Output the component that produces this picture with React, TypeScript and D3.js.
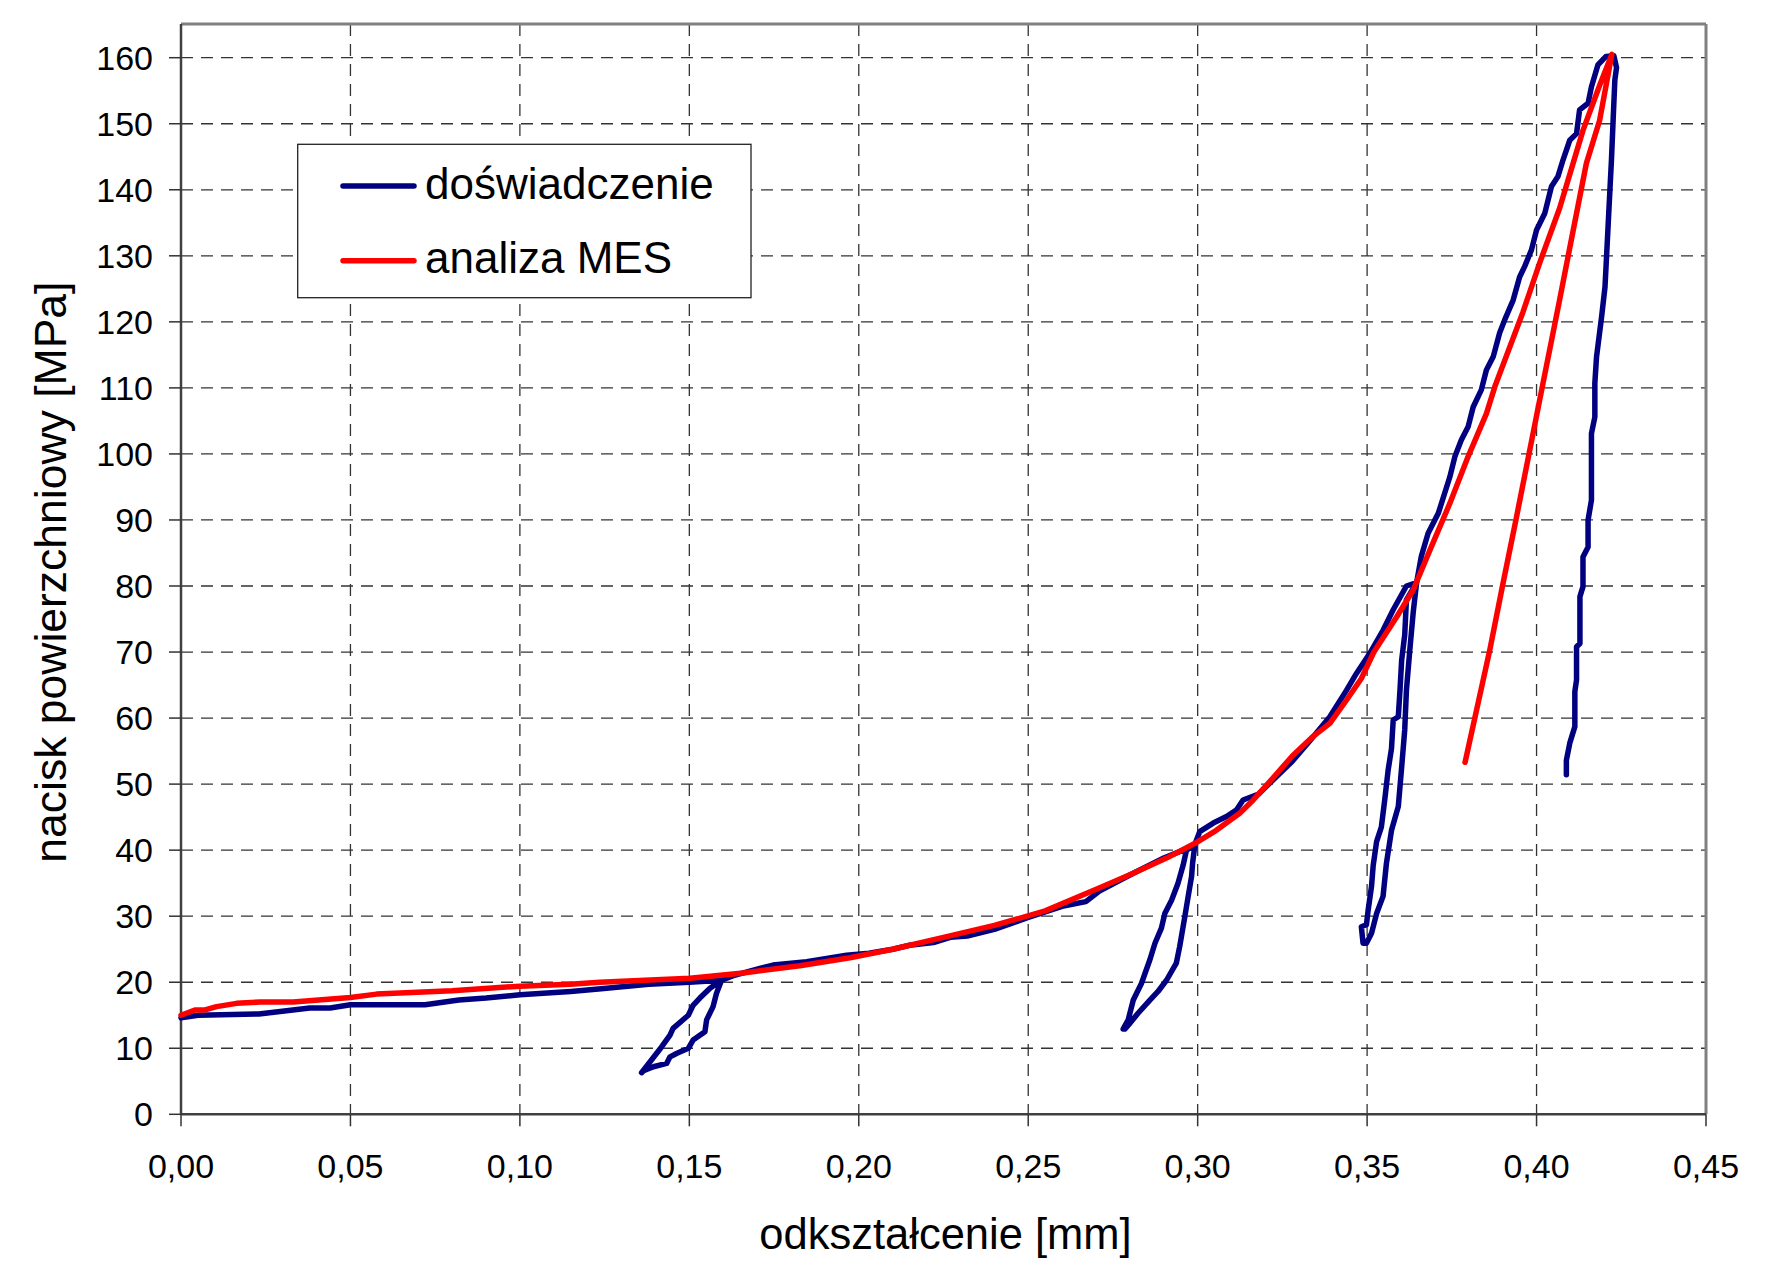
import React from 'react';
import * as d3 from 'd3';

// ---- data ----
const X_TICKS = [0, 0.05, 0.1, 0.15, 0.2, 0.25, 0.3, 0.35, 0.4, 0.45];
const Y_TICKS = [0, 10, 20, 30, 40, 50, 60, 70, 80, 90, 100, 110, 120, 130, 140, 150, 160];

const SERIES_NAMES = ['doświadczenie', 'analiza MES'];
const X_TITLE = 'odkształcenie [mm]';
const Y_TITLE = 'nacisk powierzchniowy [MPa]';

// experiment (deformation mm, pressure MPa)
const expMain1: [number, number][] = [
  [0, 14.6], [0.005, 15.0], [0.023, 15.2], [0.033, 15.8], [0.038, 16.1], [0.044, 16.1], [0.05, 16.6],
  [0.072, 16.6], [0.082, 17.3], [0.09, 17.6], [0.1, 18.1], [0.115, 18.6], [0.124, 19.0], [0.138, 19.7],
  [0.15, 20.0], [0.1595, 20.3],
];
const expLoop1: [number, number][] = [
  [0.158, 18.3], [0.157, 16.3], [0.1551, 14.3], [0.1546, 12.5], [0.1511, 11.25], [0.1497, 10.0],
  [0.1462, 9.2], [0.1443, 8.7], [0.1433, 7.7], [0.1394, 7.2], [0.1365, 6.6], [0.1359, 6.3],
  [0.1418, 10.2], [0.1443, 12.0], [0.1452, 13.0], [0.1497, 15.0], [0.1511, 16.5], [0.1531, 17.6],
  [0.1561, 19.1], [0.1595, 20.3], [0.163, 21.0],
];
const expMain2: [number, number][] = [
  [0.1708, 22.1], [0.1747, 22.6], [0.1846, 23.1], [0.1964, 24.1], [0.203, 24.4], [0.21, 25.0],
  [0.215, 25.6], [0.222, 26.0], [0.227, 26.8], [0.232, 27.0], [0.24, 28.0], [0.25, 29.8], [0.26, 31.5],
  [0.267, 32.2], [0.271, 33.8], [0.281, 36.5], [0.29, 38.8], [0.2967, 40.2], [0.2991, 40.5],
];
const expLoop2: [number, number][] = [
  [0.2985, 38.0], [0.2982, 36.0], [0.2972, 33.0], [0.2962, 29.9], [0.2947, 25.4], [0.2937, 22.9],
  [0.2908, 20.3], [0.2883, 18.6], [0.2859, 17.3], [0.2824, 15.3], [0.28, 13.8], [0.2785, 12.9],
  [0.278, 12.9], [0.2795, 14.3], [0.281, 17.3], [0.2834, 19.8], [0.2859, 23.4], [0.2874, 25.9],
  [0.2893, 28.2], [0.2903, 30.4], [0.2923, 32.4], [0.2942, 35.0], [0.2957, 37.7], [0.2967, 40.0],
  [0.2991, 40.8],
];
const expMain3: [number, number][] = [
  [0.3006, 42.8], [0.3046, 44.1], [0.3085, 45.1], [0.3115, 46.1], [0.3134, 47.6], [0.318, 48.5],
  [0.322, 50.5], [0.328, 53.5], [0.333, 56.5], [0.339, 60.2], [0.3439, 64.2], [0.3469, 66.8],
  [0.3508, 69.8], [0.3547, 73.3], [0.3577, 76.4], [0.3616, 80.0], [0.3646, 80.5],
];
const expLoop3: [number, number][] = [
  [0.3636, 76.0], [0.3626, 70.3], [0.3616, 64.2], [0.3611, 58.2], [0.3602, 52.6], [0.3592, 46.6],
  [0.3572, 43.0], [0.3557, 38.0], [0.3547, 33.0], [0.3528, 30.4], [0.3513, 27.4], [0.3498, 25.9],
  [0.3488, 25.9], [0.3483, 28.4], [0.3498, 28.7], [0.3503, 30.9], [0.3513, 34.5], [0.3518, 37.7],
  [0.3528, 41.3], [0.3542, 43.5], [0.3552, 47.6], [0.3562, 52.1], [0.3572, 55.4], [0.3577, 59.7],
  [0.3592, 60.2], [0.3597, 64.2], [0.3602, 68.8], [0.3611, 72.6], [0.3616, 77.9], [0.3646, 80.5],
];
const expMain4: [number, number][] = [
  [0.366, 84.5], [0.368, 88.0], [0.371, 91.0], [0.3744, 96.5], [0.3759, 99.6], [0.3778, 102.1],
  [0.3798, 104.1], [0.3813, 107.1], [0.3837, 109.7], [0.3852, 112.7], [0.3872, 114.7], [0.3891, 118.3],
  [0.3906, 120.3], [0.3931, 123.3], [0.395, 126.8], [0.3965, 128.4], [0.3985, 130.9], [0.4, 133.9],
  [0.4024, 136.4], [0.4044, 140.5], [0.4063, 142.0], [0.4078, 144.5], [0.4098, 147.5], [0.4118, 148.5],
  [0.4127, 152.1], [0.4152, 153.1], [0.4162, 155.6], [0.4181, 158.9], [0.4205, 160.2], [0.4228, 160.3],
];
const expUnload: [number, number][] = [
  [0.4236, 158.5], [0.4231, 156.6], [0.4226, 150.6], [0.4221, 144.5], [0.4216, 139.5], [0.4211, 134.4],
  [0.4202, 125.3], [0.4192, 120.8], [0.4177, 114.7], [0.4172, 110.7], [0.4172, 105.6], [0.4162, 103.1],
  [0.4162, 93.0], [0.4152, 90.0], [0.4152, 85.9], [0.4137, 84.4], [0.4137, 79.9], [0.4128, 78.4],
  [0.4128, 71.3], [0.4118, 70.8], [0.4118, 65.8], [0.4113, 64.0], [0.4113, 58.7], [0.4098, 56.2],
  [0.4088, 53.6], [0.4088, 51.4],
];

// FEM analysis
const femLoad: [number, number][] = [
  [0, 15.0], [0.0041, 15.8], [0.0071, 15.8], [0.0105, 16.3], [0.0164, 16.8], [0.0233, 17.0],
  [0.0331, 17.0], [0.05, 17.7], [0.0577, 18.2], [0.08, 18.7], [0.1, 19.4], [0.1148, 19.7],
  [0.1236, 20.0], [0.1502, 20.6], [0.1659, 21.4], [0.1826, 22.5], [0.1974, 23.7], [0.21, 25.0],
  [0.225, 26.8], [0.24, 28.6], [0.255, 30.8], [0.2711, 34.3], [0.281, 36.5], [0.2908, 38.8],
  [0.2991, 41.0], [0.3055, 43.0], [0.3124, 45.6], [0.3164, 47.6], [0.322, 50.8], [0.328, 54.3],
  [0.334, 57.2], [0.339, 59.2], [0.3439, 62.7], [0.3483, 66.0], [0.352, 70.0], [0.3587, 75.3],
  [0.3636, 79.4], [0.3685, 85.4], [0.3744, 92.5], [0.3798, 99.6], [0.3852, 106.1], [0.3877, 110.2],
  [0.3921, 116.2], [0.396, 121.5], [0.4009, 128.9], [0.4068, 137.2], [0.4137, 149.0], [0.4186, 155.8],
  [0.4222, 160.5],
];
const femUnload: [number, number][] = [
  [0.4186, 150.5], [0.4147, 144.0], [0.4101, 132.0], [0.4068, 123.3], [0.4019, 110.7], [0.398, 100.6],
  [0.3941, 90.5], [0.3901, 80.4], [0.3862, 70.3], [0.3789, 53.3],
];

const experiment = [...expMain1, ...expLoop1, ...expMain2, ...expLoop2, ...expMain3, ...expLoop3, ...expMain4, ...expUnload];
const fem = [...femLoad, ...femUnload];

// ---- layout ----
const W = 1783;
const H = 1265;
const PL = 181, PR = 1706, PT = 24, PB = 1114.3;
const FONT = '"Liberation Sans", Arial, sans-serif';

export default function App() {
  const x = d3.scaleLinear().domain([0, 0.45]).range([PL, PR]);
  const y = d3.scaleLinear().domain([0, 160]).range([PB, 57.7]);
  const line = d3.line<[number, number]>().x(d => x(d[0])).y(d => y(d[1]));
  const fmt = (v: number) => d3.format('.2f')(v).replace('.', ',');

  return (
    <svg width={W} height={H} style={{ position: 'absolute', left: 0, top: 0, background: '#fff' }}
      fontFamily={FONT}>
      <rect x={0} y={0} width={W} height={H} fill="#fff" />
      {/* grid */}
      {Y_TICKS.filter(t => t > 0).map(t => (
        <line key={'gy' + t} x1={PL} x2={PR} y1={y(t)} y2={y(t)} stroke="#333" strokeWidth={1.3} strokeDasharray="12 8" />
      ))}
      {X_TICKS.filter(t => t > 0 && t < 0.45).map(t => (
        <line key={'gx' + t} x1={x(t)} x2={x(t)} y1={PT} y2={PB} stroke="#333" strokeWidth={1.3} strokeDasharray="12 8" />
      ))}
      {/* plot border */}
      <line x1={PL} x2={PR} y1={PT} y2={PT} stroke="#808080" strokeWidth={3} />
      <line x1={PR} x2={PR} y1={PT} y2={PB} stroke="#808080" strokeWidth={3} />
      {/* axes */}
      <line x1={PL} x2={PL} y1={PT} y2={PB} stroke="#404040" strokeWidth={2.5} />
      <line x1={PL} x2={PR} y1={PB} y2={PB} stroke="#404040" strokeWidth={2.5} />
      {Y_TICKS.map(t => (
        <g key={'ty' + t}>
          <line x1={PL - 12} x2={PL} y1={y(t)} y2={y(t)} stroke="#333" strokeWidth={1.5} />
          <text x={153} y={y(t) + 12} textAnchor="end" fontSize={34} fill="#000">{t}</text>
        </g>
      ))}
      {X_TICKS.map(t => (
        <g key={'tx' + t}>
          <line x1={x(t)} x2={x(t)} y1={PB} y2={PB + 12} stroke="#333" strokeWidth={1.5} />
          <text x={x(t)} y={1178} textAnchor="middle" fontSize={34} fill="#000">{fmt(t)}</text>
        </g>
      ))}
      {/* titles */}
      <text x={(PL + PR) / 2 + 2} y={1249} textAnchor="middle" fontSize={43.5} fill="#000">{X_TITLE}</text>
      <text transform={`translate(66, ${(PT + PB) / 2 + 3}) rotate(-90)`} textAnchor="middle" fontSize={44.5} fill="#000">{Y_TITLE}</text>

      {/* data */}
      <path d={line(experiment) || ''} fill="none" stroke="#000080" strokeWidth={5.5} strokeLinejoin="round" strokeLinecap="round" />
      <path d={line(fem) || ''} fill="none" stroke="#ff0000" strokeWidth={5.5} strokeLinejoin="round" strokeLinecap="round" />

      {/* legend */}
      <rect x={297.7} y={144.3} width={453.3} height={153.4} fill="#fff" stroke="#222" strokeWidth={1.3} />
      <line x1={343} x2={414} y1={186} y2={186} stroke="#000080" strokeWidth={5.5} strokeLinecap="round" />
      <text x={425} y={198.5} fontSize={44} fill="#000">{SERIES_NAMES[0]}</text>
      <line x1={343} x2={414} y1={260.7} y2={260.7} stroke="#ff0000" strokeWidth={5.5} strokeLinecap="round" />
      <text x={425} y={273.3} fontSize={44} fill="#000">{SERIES_NAMES[1]}</text>
    </svg>
  );
}
